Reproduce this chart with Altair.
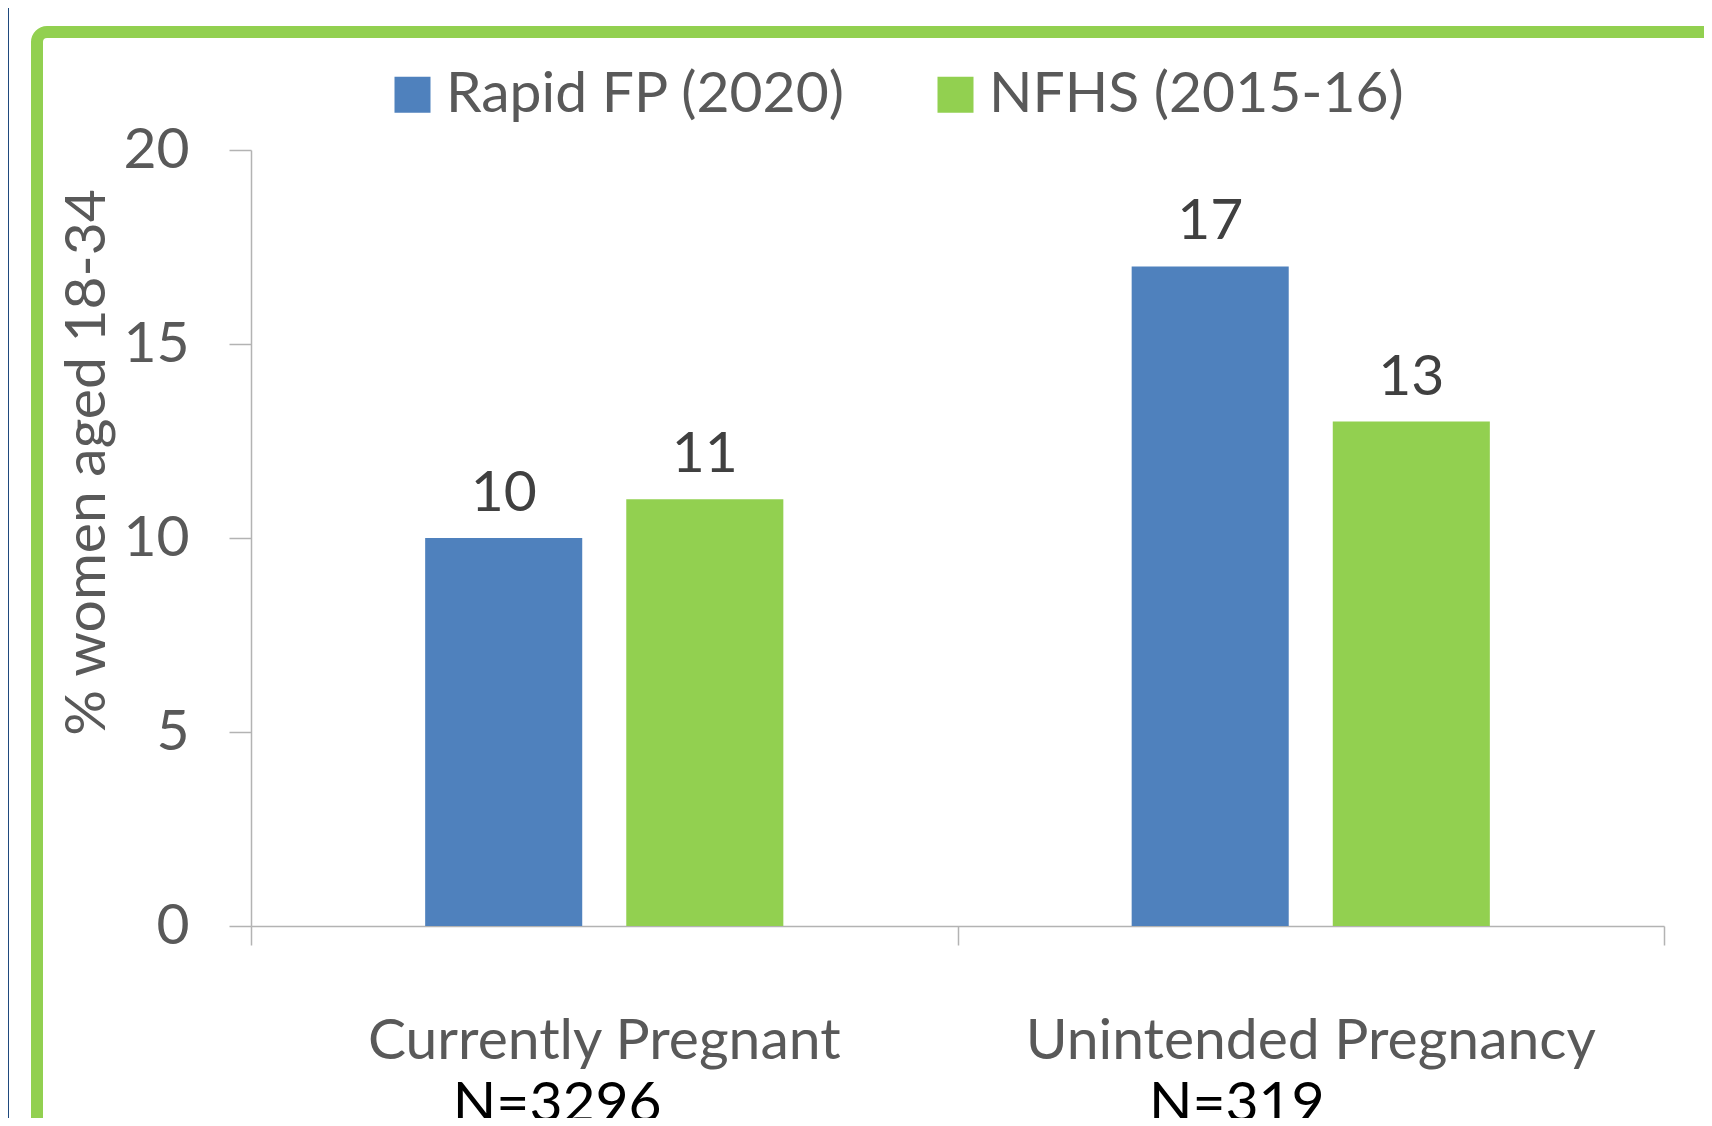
import altair as alt
import pandas as pd

categories = ["Currently Pregnant", "Unintended Pregnancy"]
sample_sizes = ["N=3296", "N=319"]
series_names = ["Rapid FP (2020)", "NFHS (2015-16)"]
rapid_fp = [10, 17]
nfhs = [11, 13]
y_ticks = [0, 5, 10, 15, 20]
colors = ["#4F81BD", "#92D050"]

rows = []
for i, c in enumerate(categories):
    rows.append({"category": c, "series": series_names[0], "value": rapid_fp[i]})
    rows.append({"category": c, "series": series_names[1], "value": nfhs[i]})
df = pd.DataFrame(rows)
cat_df = pd.DataFrame({"category": categories, "n": sample_sizes})

FONT = "Lato"
FS = 57
W, H = 1413, 776

x_scale = alt.Scale(domain=categories, paddingInner=0, paddingOuter=0)
xo_scale = alt.Scale(domain=series_names, paddingInner=0.219, paddingOuter=0.866)
y_scale = alt.Scale(domain=[0, 20], nice=False)

x_axis = alt.Axis(title=None, labels=False, tickBand="extent", tickSize=19,
                  domainColor="#B3B3B3", tickColor="#B3B3B3",
                  domainWidth=1.5, tickWidth=1.5, grid=False)
y_axis = alt.Axis(values=y_ticks, title="% women aged 18-34", grid=False,
                  tickSize=22, labelPadding=40, labelFont=FONT, labelFontSize=FS,
                  labelColor="#595959", domainColor="#B3B3B3", tickColor="#B3B3B3",
                  domainWidth=1.5, tickWidth=1.5,
                  titleFont=FONT, titleFontSize=FS, titleFontWeight="normal",
                  titleColor="#595959", titleAngle=270, titleX=-147, titleY=312,
                  titleAlign="center", titleBaseline="alphabetic")

X = alt.X("category:N", scale=x_scale, sort=categories, axis=x_axis)
XO = alt.XOffset("series:N", scale=xo_scale, sort=series_names)

bars = alt.Chart(df).mark_bar().encode(
    x=X,
    xOffset=XO,
    y=alt.Y("value:Q", scale=y_scale, axis=y_axis),
    color=alt.Color("series:N", scale=alt.Scale(domain=series_names, range=colors),
                    legend=alt.Legend(title=None, orient="none", legendX=133, legendY=-84,
                                      direction="horizontal", symbolType="square",
                                      symbolSize=1296, symbolStrokeWidth=0, symbolOpacity=1,
                                      labelFont=FONT, labelFontSize=FS, labelColor="#595959",
                                      labelOffset=5, columnPadding=81, labelLimit=1000,
                                      padding=0)),
)

value_labels = alt.Chart(df).mark_text(
    font=FONT, fontSize=FS, color="#404040", baseline="alphabetic", align="center", dy=-27
).encode(
    x=X,
    xOffset=XO,
    y=alt.Y("value:Q", scale=y_scale, axis=y_axis),
    text=alt.Text("value:Q"),
)

cat_labels = alt.Chart(cat_df).mark_text(
    font=FONT, fontSize=FS, color="#595959", baseline="alphabetic", align="center"
).encode(
    x=X,
    y=alt.value(H + 133),
    text="category:N",
)

n1 = alt.Chart(cat_df).transform_filter(alt.datum.category == categories[0]).mark_text(
    font=FONT, fontSize=FS, color="#000000", baseline="alphabetic", align="center", dx=-47
).encode(
    x=X,
    y=alt.value(H + 196),
    text="n:N",
)
n2 = alt.Chart(cat_df).transform_filter(alt.datum.category == categories[1]).mark_text(
    font=FONT, fontSize=FS, color="#000000", baseline="alphabetic", align="center", dx=-74
).encode(
    x=X,
    y=alt.value(H + 196),
    text="n:N",
)

frame_df = pd.DataFrame({"k": [0]})
border = alt.Chart(frame_df).mark_rect(
    fill="transparent", stroke="#92D050", strokeWidth=12, cornerRadius=10
).encode(
    x=alt.value(-214), x2=alt.value(W + 200), y=alt.value(-118), y2=alt.value(H + 400)
)
stripe = alt.Chart(frame_df).mark_rect(color="#1F497D").encode(
    x=alt.value(-243), x2=alt.value(-242), y=alt.value(-142), y2=alt.value(H + 200)
)

chart = alt.layer(border, stripe, bars, value_labels, cat_labels, n1, n2).properties(
    width=W, height=H,
    autosize=alt.AutoSizeParams(type="none"),
    padding={"left": 243, "top": 142, "right": 40, "bottom": 192},
    background="white",
).configure_view(stroke=None)

chart.save("out.html", embed_options={"renderer": "svg", "actions": False})
